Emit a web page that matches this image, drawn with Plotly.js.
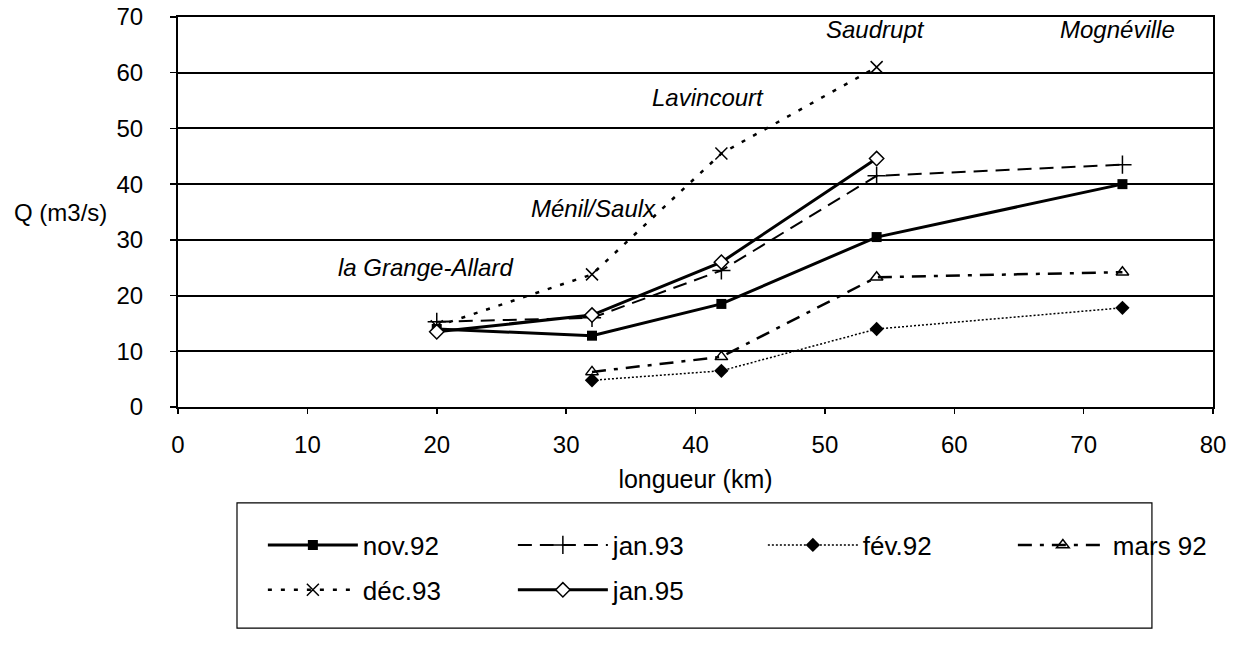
<!DOCTYPE html>
<html>
<head>
<meta charset="utf-8">
<script src="https://cdn.plot.ly/plotly-3.0.1.min.js"></script>
<style>
  html, body { margin: 0; padding: 0; background: #fff; }
  #chart { width: 1239px; height: 647px; }
</style>
</head>
<body>
<div id="chart"></div>
<script>
// Distances along the river (km)
const xFull = [20, 32, 42, 54, 73];
const xDown = [32, 42, 54, 73];
const xUp = [20, 32, 42, 54];

// Discharge Q (m3/s) per campaign
const nov92 = [14, 12.8, 18.5, 30.5, 40];
const jan93 = [15.3, 16, 24.5, 41.5, 43.5];
const fev92 = [4.8, 6.5, 14, 17.8];
const mars92 = [6.3, 9, 23.3, 24.2];
const dec93 = [14.5, 23.8, 45.5, 61];
const jan95 = [13.5, 16.5, 26, 44.6];

// Station labels
const stationNames = ["la Grange-Allard", "Ménil/Saulx", "Lavincourt", "Saudrupt", "Mognéville"];
const stationX = [19.1, 32.1, 41, 53.9, 72.6];
const stationY = [25, 35.7, 55.5, 67.7, 67.7];

const xTicks = [0, 10, 20, 30, 40, 50, 60, 70, 80];
const yTicks = [0, 10, 20, 30, 40, 50, 60, 70];

const FONT = "Liberation Sans, Arial, sans-serif";
const BLACK = "#000";
const FS = 24;

const traces = [
  {
    name: "nov.92", x: xFull, y: nov92, mode: "lines+markers",
    line: { color: BLACK, width: 3 },
    marker: { symbol: "square", size: 10, color: BLACK },
    legend: "legend"
  },
  {
    name: "jan.93", x: xFull, y: jan93, mode: "lines+markers",
    line: { color: BLACK, width: 2, dash: "14px,8px" },
    marker: { symbol: "cross-thin-open", size: 13, color: BLACK, line: { color: BLACK, width: 1.5 } },
    legend: "legend"
  },
  {
    name: "fév.92", x: xDown, y: fev92, mode: "lines+markers",
    line: { color: BLACK, width: 1.5, dash: "2px,2px" },
    marker: { symbol: "diamond", size: 11, color: BLACK },
    legend: "legend"
  },
  {
    name: "mars 92", x: xDown, y: mars92, mode: "lines+markers",
    line: { color: BLACK, width: 2.5, dash: "14px,8px,4px,8px" },
    marker: { symbol: "triangle-up-open", size: 11, color: BLACK, line: { color: BLACK, width: 1.5 } },
    legend: "legend"
  },
  {
    name: "déc.93", x: xUp, y: dec93, mode: "lines+markers",
    line: { color: BLACK, width: 2.5, dash: "4px,9px" },
    marker: { symbol: "x-thin-open", size: 12, color: BLACK, line: { color: BLACK, width: 1.5 } },
    legend: "legend2"
  },
  {
    name: "jan.95", x: xUp, y: jan95, mode: "lines+markers",
    line: { color: BLACK, width: 3 },
    marker: { symbol: "diamond", size: 11, color: "#fff", line: { color: BLACK, width: 1.5 } },
    legend: "legend2"
  }
];

const annotations = stationNames.map((t, i) => ({
  text: t, x: stationX[i], y: stationY[i], xref: "x", yref: "y",
  showarrow: false, xanchor: "center", yanchor: "middle",
  font: { family: FONT, size: FS, color: BLACK, style: "italic" }
}));
annotations.push({
  text: "Q (m3/s)", xref: "paper", yref: "paper", x: -0.114, y: 0.5,
  showarrow: false, xanchor: "center", yanchor: "middle",
  font: { family: FONT, size: FS, color: BLACK }
});

const legendCommon = {
  orientation: "h", xanchor: "left", yanchor: "middle",
  x: 0.082, entrywidth: 145, entrywidthmode: "pixels",
  bgcolor: "rgba(0,0,0,0)", borderwidth: 0,
  font: { family: FONT, size: 26, color: BLACK }, itemwidth: 90
};

const layout = {
  width: 1239, height: 647,
  margin: { l: 178, r: 26, t: 17, b: 240, autoexpand: false },
  paper_bgcolor: "#fff", plot_bgcolor: "#fff",
  font: { family: FONT, size: FS, color: BLACK },
  showlegend: true,
  xaxis: {
    range: [0, 80], tickvals: xTicks, ticktext: xTicks.map(String),
    showgrid: false, zeroline: false,
    showline: true, linecolor: BLACK, linewidth: 2, mirror: true,
    ticks: "outside", ticklen: 5, tickcolor: BLACK, tickwidth: 1.5,
    ticklabelstandoff: 10,
    tickfont: { family: FONT, size: FS, color: BLACK },
    title: { text: "longueur (km)", standoff: 14, font: { family: FONT, size: 25, color: BLACK } },
    automargin: false, fixedrange: true
  },
  yaxis: {
    range: [0, 70], tickvals: yTicks, ticktext: yTicks.map(String),
    showgrid: true, gridcolor: BLACK, gridwidth: 2, zeroline: false,
    showline: true, linecolor: BLACK, linewidth: 2, mirror: true,
    ticks: "outside", ticklen: 6, tickcolor: BLACK, tickwidth: 1.5,
    ticklabelstandoff: 22,
    tickfont: { family: FONT, size: FS, color: BLACK },
    automargin: false, fixedrange: true
  },
  legend: Object.assign({}, legendCommon, { y: -0.354 }),
  legend2: Object.assign({}, legendCommon, { y: -0.469 }),
  shapes: [{
    type: "rect", xref: "paper", yref: "paper",
    x0: 0.057, x1: 0.941, y0: -0.567, y1: -0.246,
    line: { color: BLACK, width: 1.2 }, fillcolor: "rgba(0,0,0,0)"
  }],
  annotations: annotations
};

Plotly.newPlot("chart", traces, layout, { displayModeBar: false, staticPlot: true });
</script>
</body>
</html>
